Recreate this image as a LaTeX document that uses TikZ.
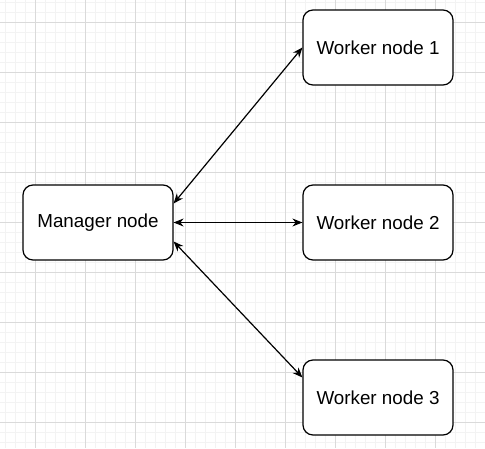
\documentclass[tikz,border=0pt]{standalone}
\usepackage{fontspec}
\setmainfont{Liberation Sans}
\usetikzlibrary{arrows.meta}
\definecolor{minorgrid}{HTML}{F3F3F3}
\definecolor{majorgrid}{HTML}{DADADA}
\tikzset{
  box/.style={draw=black, line width=1.2pt, rounded corners=10pt, fill=white,
    minimum width=150pt, minimum height=75pt, inner sep=0pt,
    font=\fontsize{18.8}{22}\selectfont},
  link/.style={line width=1.2pt, {Stealth[length=10pt,width=8pt]}-{Stealth[length=10pt,width=8pt]}},
}
\begin{document}
\begin{tikzpicture}[x=1pt,y=-1pt]
\useasboundingbox (0,0) rectangle (485,448);
\fill[white] (0,0) rectangle (485,448);
\foreach \x in {5,15,...,485} \draw[minorgrid, line width=1pt] (\x,0) -- (\x,448);
\foreach \y in {2,12,...,448} \draw[minorgrid, line width=1pt] (0,\y) -- (485,\y);
\foreach \x in {35,85,...,485} \draw[majorgrid, line width=1pt] (\x,0) -- (\x,448);
\foreach \y in {22,72,...,448} \draw[majorgrid, line width=1pt] (0,\y) -- (485,\y);
\node[box] (m) at (98,222.5) {Manager node};
\node[box] (w1) at (378,47.5) {Worker node 1};
\node[box] (w2) at (378,222.5) {Worker node 2};
\node[box] (w3) at (378,397.5) {Worker node 3};
\draw[link] ([yshift=19pt]m.east) -- (w1.west);
\draw[link] (m.east) -- (w2.west);
\draw[link] ([yshift=-19pt]m.east) -- ([yshift=20pt]w3.west);
\end{tikzpicture}
\end{document}
